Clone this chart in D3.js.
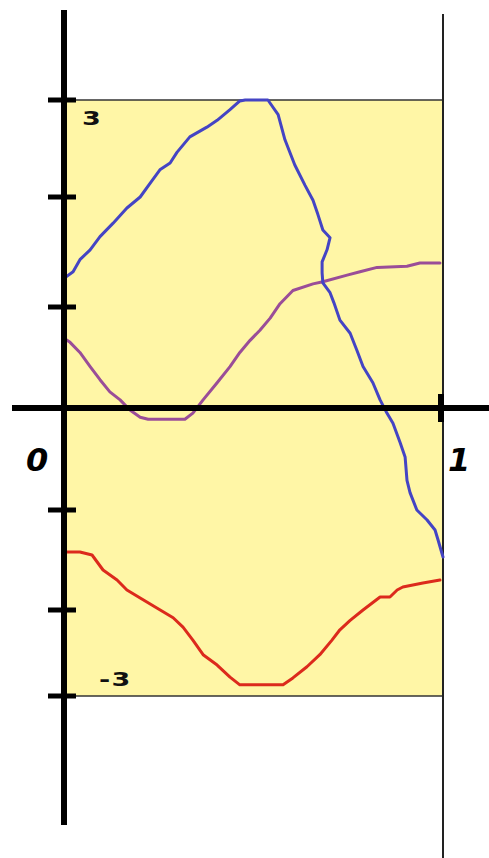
<!DOCTYPE html>
<html>
<head>
<meta charset="utf-8">
<script src="https://cdn.jsdelivr.net/npm/d3@7"></script>
<style>
  html, body { margin: 0; padding: 0; background: #ffffff; }
  svg { display: block; }
</style>
</head>
<body>
<svg id="chart" width="489" height="858"></svg>
<script>
// Sketched curves on [0, 1] with values between -3 and 3
const xDomain = [0, 1];
const yTickValues = [-3, -2, -1, 0, 1, 2, 3];
const yLabelValues = [3, -3];
const xLabelValues = [0, 1];

const blueX = [0, 0.024, 0.042, 0.069, 0.095, 0.129, 0.166, 0.201, 0.227, 0.253, 0.280, 0.298, 0.332, 0.377, 0.404, 0.438, 0.464, 0.478, 0.538, 0.565, 0.583, 0.609, 0.636, 0.657, 0.670, 0.683, 0.702, 0.694, 0.681, 0.681, 0.683, 0.702, 0.712, 0.728, 0.755, 0.773, 0.789, 0.815, 0.834, 0.852, 0.868, 0.887, 0.900, 0.905, 0.913, 0.931, 0.958, 0.979, 0.987, 1.0];
const blueY = [1.26, 1.32, 1.43, 1.52, 1.64, 1.76, 1.90, 2.00, 2.14, 2.28, 2.35, 2.46, 2.62, 2.72, 2.79, 2.90, 2.99, 3.0, 3.0, 2.85, 2.59, 2.33, 2.12, 1.97, 1.84, 1.70, 1.63, 1.52, 1.41, 1.31, 1.22, 1.13, 1.04, 0.87, 0.74, 0.57, 0.41, 0.25, 0.08, -0.05, -0.15, -0.34, -0.48, -0.71, -0.83, -1.0, -1.1, -1.2, -1.3, -1.47];

const purpleX = [0, 0.016, 0.042, 0.069, 0.095, 0.121, 0.148, 0.174, 0.201, 0.222, 0.319, 0.340, 0.367, 0.404, 0.438, 0.464, 0.491, 0.517, 0.544, 0.570, 0.604, 0.657, 0.683, 0.747, 0.781, 0.826, 0.905, 0.939, 0.992];
const purpleY = [0.69, 0.65, 0.55, 0.41, 0.28, 0.16, 0.08, -0.02, -0.09, -0.11, -0.11, -0.05, 0.08, 0.25, 0.41, 0.55, 0.67, 0.77, 0.89, 1.03, 1.15, 1.21, 1.23, 1.29, 1.32, 1.36, 1.37, 1.40, 1.40];

const redX = [0, 0.042, 0.074, 0.103, 0.140, 0.166, 0.201, 0.245, 0.288, 0.314, 0.340, 0.367, 0.404, 0.438, 0.464, 0.578, 0.604, 0.641, 0.675, 0.707, 0.728, 0.755, 0.789, 0.834, 0.860, 0.879, 0.894, 0.947, 0.992];
const redY = [-1.42, -1.42, -1.45, -1.60, -1.70, -1.80, -1.88, -1.98, -2.09, -2.20, -2.35, -2.52, -2.64, -2.78, -2.87, -2.87, -2.79, -2.66, -2.52, -2.35, -2.23, -2.12, -2.00, -1.87, -1.87, -1.80, -1.77, -1.73, -1.70];

const svg = d3.select("#chart");

// Hand-ruled axis: the unit spacing varies a little, so map each tick separately
const x = d3.scaleLinear().domain(xDomain).range([64, 443]);
const y = d3.scaleLinear()
  .domain(yTickValues)
  .range([696, 610, 510, 408, 307, 197, 100]);

// Shaded band between -3 and 3
svg.append("rect")
  .attr("x", x(0))
  .attr("y", y(3))
  .attr("width", x(1) - x(0))
  .attr("height", y(-3) - y(3))
  .attr("fill", "#fff6a6");

// Thin borders of the band
svg.selectAll("line.band")
  .data([3, -3])
  .join("line")
  .attr("class", "band")
  .attr("x1", x(0)).attr("x2", x(1))
  .attr("y1", d => y(d)).attr("y2", d => y(d))
  .attr("stroke", "#333").attr("stroke-width", 1.5);

// Right edge line at x = 1
svg.append("line")
  .attr("x1", x(1)).attr("x2", x(1))
  .attr("y1", 14).attr("y2", 858)
  .attr("stroke", "#222").attr("stroke-width", 2);

// Curves
const line = d3.line().x(d => x(d[0])).y(d => y(d[1]));
const series = [
  { xs: purpleX, ys: purpleY, color: "#9a4d98" },
  { xs: redX, ys: redY, color: "#dc2a1c" },
  { xs: blueX, ys: blueY, color: "#4444c4" }
];
series.forEach(s => {
  svg.append("path")
    .datum(d3.zip(s.xs, s.ys))
    .attr("d", line)
    .attr("fill", "none")
    .attr("stroke", s.color)
    .attr("stroke-width", 3)
    .attr("stroke-linejoin", "round")
    .attr("stroke-linecap", "round");
});

// Axes drawn as heavy marker strokes
svg.append("line")
  .attr("x1", 12).attr("x2", 489)
  .attr("y1", y(0)).attr("y2", y(0))
  .attr("stroke", "#000").attr("stroke-width", 6);

svg.append("line")
  .attr("x1", x(0)).attr("x2", x(0))
  .attr("y1", 10).attr("y2", 825)
  .attr("stroke", "#000").attr("stroke-width", 6);

// Y ticks crossing the axis
svg.selectAll("line.ytick")
  .data(yTickValues.filter(v => v !== 0))
  .join("line")
  .attr("class", "ytick")
  .attr("x1", x(0) - 16).attr("x2", x(0) + 12)
  .attr("y1", d => y(d)).attr("y2", d => y(d))
  .attr("stroke", "#000").attr("stroke-width", 5);

// Tick at x = 1
svg.append("line")
  .attr("x1", x(1) - 2).attr("x2", x(1) - 2)
  .attr("y1", y(0) - 14).attr("y2", y(0) + 14)
  .attr("stroke", "#000").attr("stroke-width", 6);

// Value labels inside the band, stretched wide like the hand lettering
const labelPos = d => d > 0 ? [x(0) + 18, y(d) + 25] : [x(0) + 35, y(d) - 10];
svg.selectAll("text.ylab")
  .data(yLabelValues)
  .join("text")
  .attr("class", "ylab")
  .attr("x", 0)
  .attr("y", 0)
  .attr("transform", d => {
    const [tx, ty] = labelPos(d);
    return `translate(${tx},${ty}) scale(1.35,1)`;
  })
  .attr("font-family", "DejaVu Sans, sans-serif")
  .attr("font-weight", "bold")
  .attr("font-size", 20)
  .attr("letter-spacing", 1)
  .attr("fill", "#111")
  .text(d => d > 0 ? String(d) : "-" + Math.abs(d));

// X labels
svg.selectAll("text.xlab")
  .data(xLabelValues)
  .join("text")
  .attr("class", "xlab")
  .attr("x", d => d === 0 ? x(d) - 38 : x(d) + 5)
  .attr("y", y(0) + 63)
  .attr("font-family", "DejaVu Sans, sans-serif")
  .attr("font-style", "italic")
  .attr("font-weight", "bold")
  .attr("font-size", 32)
  .attr("fill", "#000")
  .text(d => String(d));
</script>
</body>
</html>
